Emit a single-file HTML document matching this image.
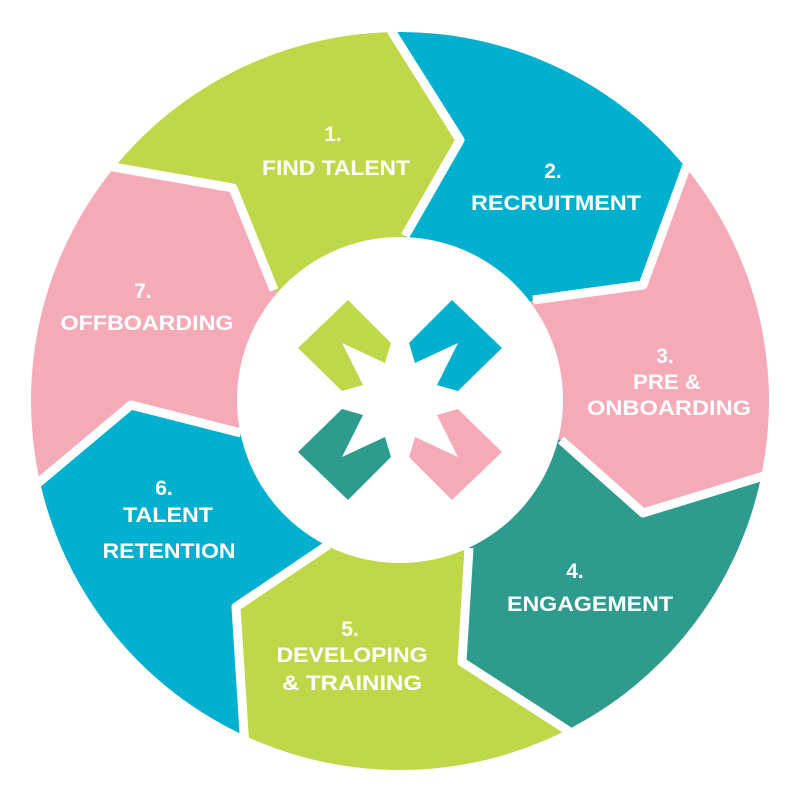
<!DOCTYPE html>
<html><head><meta charset="utf-8"><style>
html,body{margin:0;padding:0;background:#fff;}
svg{display:block;}
text{font-family:"Liberation Sans",sans-serif;font-weight:bold;fill:#fff;text-anchor:middle;}
</style></head><body>
<svg width="800" height="800" viewBox="0 0 800 800" xmlns="http://www.w3.org/2000/svg">
<defs><clipPath id="c"><circle cx="400" cy="401" r="369"/></clipPath></defs>
<g clip-path="url(#c)">
<polygon fill="#BFD84A" points="400,400 274,290 233,188 113,167 -20,147 0,0 385,0 392,32 460,140 405,236"/>
<polygon fill="#00B0CE" points="400,400 405,236 460,140 392,32 385,0 800,0 720,80 687,165 643,285 533,300"/>
<polygon fill="#F5AAB8" points="400,400 533,300 643,285 687,165 720,80 900,80 900,460 767,475 643,513 561,440"/>
<polygon fill="#2D9C8F" points="400,400 561,440 643,513 767,475 900,460 900,820 680,820 567,730 462,662 469,548"/>
<polygon fill="#BFD84A" points="400,400 469,548 462,662 567,730 680,820 250,820 244,733 236,607 328,545"/>
<polygon fill="#00B0CE" points="400,400 328,545 236,607 244,733 250,820 -20,820 -20,530 38,483 131,405 241,433"/>
<polygon fill="#F5AAB8" points="400,400 241,433 131,405 38,483 -20,530 -20,147 113,167 233,188 274,290"/>
<g fill="none" stroke="#fff" stroke-width="9" stroke-linejoin="round">
<polyline points="405,236 460,140 392,32 385,0"/>
<polyline points="533,300 643,285 687,165 720,80"/>
<polyline points="561,440 643,513 767,475 900,460"/>
<polyline points="469,548 462,662 567,730 680,820"/>
<polyline points="328,545 236,607 244,733 250,820"/>
<polyline points="241,433 131,405 38,483 -20,530"/>
<polyline points="274,290 233,188 113,167 -20,147"/>
</g>
</g>
<circle cx="400" cy="400" r="163" fill="#fff"/>
<g>
<polygon fill="#BFD84A" points="298,348 348,300 391,343 385,363 342,343 363,385 342,391"/>
<polygon fill="#00B0CE" transform="translate(800,0) scale(-1,1)" points="298,348 348,300 391,343 385,363 342,343 363,385 342,391"/>
<polygon fill="#2D9C8F" transform="translate(0,800) scale(1,-1)" points="298,348 348,300 391,343 385,363 342,343 363,385 342,391"/>
<polygon fill="#F5AAB8" transform="translate(800,800) scale(-1,-1)" points="298,348 348,300 391,343 385,363 342,343 363,385 342,391"/>
</g>
<g font-size="21">
<text x="333" y="141">1.</text>
<text x="336" y="175" textLength="148" lengthAdjust="spacingAndGlyphs">FIND TALENT</text>
<text x="553" y="178">2.</text>
<text x="556" y="210" textLength="170" lengthAdjust="spacingAndGlyphs">RECRUITMENT</text>
<text x="665" y="363">3.</text>
<text x="667" y="389" textLength="68" lengthAdjust="spacingAndGlyphs">PRE &amp;</text>
<text x="669" y="415" textLength="164" lengthAdjust="spacingAndGlyphs">ONBOARDING</text>
<text x="575" y="578">4.</text>
<text x="590" y="611" textLength="166" lengthAdjust="spacingAndGlyphs">ENGAGEMENT</text>
<text x="350" y="636">5.</text>
<text x="352" y="662" textLength="151" lengthAdjust="spacingAndGlyphs">DEVELOPING</text>
<text x="352" y="690" textLength="140" lengthAdjust="spacingAndGlyphs">&amp; TRAINING</text>
<text x="164" y="495">6.</text>
<text x="168" y="522" textLength="90" lengthAdjust="spacingAndGlyphs">TALENT</text>
<text x="169" y="558" textLength="133" lengthAdjust="spacingAndGlyphs">RETENTION</text>
<text x="143" y="298">7.</text>
<text x="147" y="330" textLength="173" lengthAdjust="spacingAndGlyphs">OFFBOARDING</text>
</g>
</svg>
</body></html>
